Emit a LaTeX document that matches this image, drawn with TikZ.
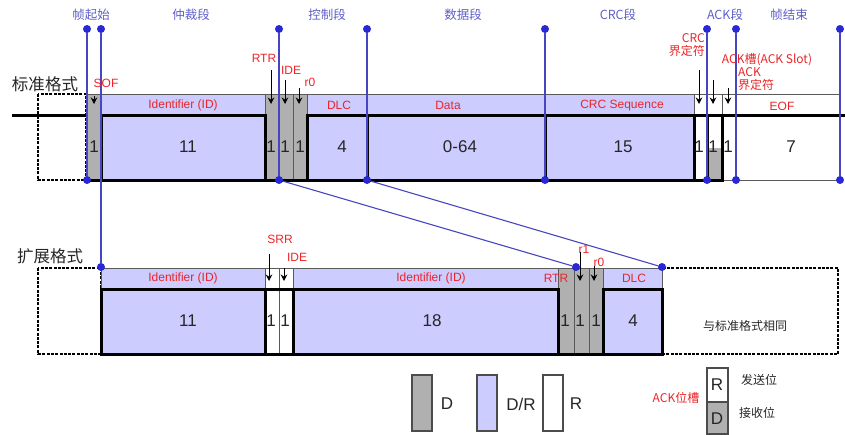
\documentclass[tikz,border=0pt]{standalone}
\usepackage{fontspec}
\setmainfont{Liberation Sans}
\newfontfamily\cjk{Noto Sans CJK SC}
\usetikzlibrary{arrows.meta}

\definecolor{lav}{RGB}{204,204,255}
\definecolor{bitgray}{RGB}{176,176,176}
\definecolor{segblue}{RGB}{70,70,195}
\definecolor{dotblue}{RGB}{40,40,215}
\definecolor{segtext}{RGB}{95,95,200}
\definecolor{lblred}{RGB}{236,36,40}

\begin{document}
\begin{tikzpicture}[x=1pt, y=-1pt, >={Stealth[length=6.5pt,width=6.5pt]},
  dbit/.style={fill=bitgray, draw=black!65, line width=0.8pt},
  drbit/.style={fill=lav, draw=black!65, line width=0.8pt},
  rbit/.style={fill=white, draw=black!65, line width=0.8pt},
  valbox/.style={draw=black, line width=3pt},
  bus/.style={draw=black, line width=3pt},
  idle/.style={draw=black, line width=2.6pt, dash pattern=on 3pt off 1.3pt},
  fname/.style={text=lblred, font=\fontsize{12}{13}\selectfont, inner sep=0pt},
  cname/.style={text=lblred, font=\cjk\fontsize{12}{13.5}\selectfont, inner sep=0pt},
  fval/.style={text=black!85, font=\fontsize{17}{18}\selectfont, inner sep=0pt},
  seg/.style={text=segtext, font=\cjk\fontsize{12.5}{13}\selectfont, inner sep=0pt},
  fmt/.style={text=black!85, font=\cjk\fontsize{16.5}{17}\selectfont, inner sep=0pt},
  note/.style={text=black!85, font=\cjk\fontsize{12}{13}\selectfont, inner sep=0pt},
  segdot/.style={circle, fill=dotblue, inner sep=0pt, minimum size=8pt},
  segline/.style={draw=segblue, line width=1.1pt},
  bitarrow/.style={->, line width=1pt, draw=black},
  legbox/.style={draw=black!70, line width=1.4pt}
]
\useasboundingbox (0,0) rectangle (845,434);

% standard frame
\draw[idle] (38,94) rectangle (86,180);
\draw[bus] (12,115) -- (86,115);
\foreach \a/\b/\st in {86/101/dbit, 101/265/drbit, 265/279/dbit, 279/293/dbit, 293/307/dbit,
  307/367/drbit, 367/545/drbit, 545/694/drbit, 694/707/rbit, 707/722/rbit, 722/736/rbit, 736/840/rbit}
  \filldraw[\st] (\a,94) rectangle (\b,180);
\fill[bitgray] (707,148) rectangle (722,180);
\foreach \a/\b in {101/265, 307/367, 367/545, 545/694}
  \draw[valbox] (\a,115) rectangle (\b,180);
\draw[bus] (694,115) -- (845,115);
\draw[bus] (86,180) -- (707,180);
\draw[bus] (707,115) -- (707,180) -- (722,180) -- (722,115);

% extended frame
\draw[idle] (38,268) rectangle (101,354);
\draw[idle] (662,268) rectangle (838,354);
\foreach \a/\b/\st in {101/265/drbit, 265/279/rbit, 279/293/rbit, 293/558/drbit,
  558/574/dbit, 574/589/dbit, 589/603/dbit, 603/662/drbit}
  \filldraw[\st] (\a,268) rectangle (\b,354);
\foreach \a/\b in {101/265, 293/558, 603/662}
  \draw[valbox] (\a,289) rectangle (\b,354);
\draw[bus] (265,289) -- (293,289);
\draw[bus] (101,354) -- (662,354);

% segment lines
\foreach \n/\x in {sof/87, arb/101, ctl/279, dat/367, crc/545, ack/707, eof/736, end/840}
  \node[segdot] (\n-t) at (\x,29) {};
\foreach \n/\x in {sof/87, ctl/279, dat/367, crc/545, ack/707, eof/736, end/840}
  \node[segdot] (\n-b) at (\x,180) {};
\node[segdot] (arb-x) at (101,267) {};
\node[segdot] (ctl-x) at (576,267) {};
\node[segdot] (dat-x) at (662,267) {};
\foreach \n in {sof, ctl, dat, crc, ack, eof, end}
  \draw[segline] (\n-t) -- (\n-b);
\draw[segline] (arb-t) -- (arb-x);
\draw[segline] (ctl-b) -- (ctl-x);
\draw[segline] (dat-b) -- (dat-x);

\node[seg] at (91,15) {帧起始};
\node[seg] at (191,15) {仲裁段};
\node[seg] at (327,15) {控制段};
\node[seg] at (463,15) {数据段};
\node[seg] at (618,15) {CRC段};
\node[seg] at (725,15) {ACK段};
\node[seg] at (789,15) {帧结束};

\node[fmt] (std) at (45,84) {标准格式};
\node[fmt] (ext) at (50,256) {扩展格式};

% standard frame labels
\node[fname] (sof) at (106,83) {SOF};
\node[fname] (rtr) at (264,58) {RTR};
\node[fname] (ide) at (291,70) {IDE};
\node[fname] (rz) at (310,82) {r0};
\node[cname, align=right, anchor=east] (crcd) at (705,45) {CRC\\界定符};
\node[cname] (acks) at (767,60) {ACK槽(ACK Slot)};
\node[cname, align=left, anchor=west] (ackd) at (738,79) {ACK\\界定符};
\foreach \n/\x/\ya in {sof/94/96, rtr/271/70, ide/285/80, rz/299/88, crcd/699/70, acks/713/80, ackd/728/88} {
  \coordinate (\n-a) at (\x,\ya);
  \coordinate (\n-h) at (\x,104);
  \draw[bitarrow] (\n-a) -- (\n-h);
}
\node[fname] at (183,105) {Identifier (ID)};
\node[fname] at (339,105) {DLC};
\node[fname] at (448,105) {Data};
\node[fname] at (622,106) {CRC Sequence};
\node[fname] at (782,106) {EOF};
\foreach \x/\t in {94/1, 188/11, 271/1, 285/1, 300/1, 342/4, 460/0-64, 623/15, 699/1, 713/1, 728/1, 791/7}
  \node[fval] at (\x,147) {\t};

% extended frame labels
\node[fname] (srr) at (280,239) {SRR};
\node[fname] (eide) at (297,257) {IDE};
\node[fname] (rone) at (584,249) {r1};
\node[fname] (ezero) at (599,262) {r0};
\foreach \n/\x/\ya in {srr/269/254, eide/284/268, rone/580/252, ezero/594/266} {
  \coordinate (\n-a) at (\x,\ya);
  \coordinate (\n-h) at (\x,281);
  \draw[bitarrow] (\n-a) -- (\n-h);
}
\node[fname] at (183,278) {Identifier (ID)};
\node[fname] at (431,278) {Identifier (ID)};
\node[fname] at (556,278) {RTR};
\node[fname] at (634,278) {DLC};
\foreach \x/\t in {188/11, 271/1, 285/1, 432/18, 565/1, 580/1, 596/1, 633/4}
  \node[fval] at (\x,321) {\t};
\node[note] (same) at (745,326) {与标准格式相同};

% legend
\filldraw[legbox, fill=bitgray] (412,375) rectangle (432,431);
\filldraw[legbox, fill=lav] (477,375) rectangle (497,431);
\filldraw[legbox, fill=white] (543,375) rectangle (563,431);
\node[fval] (dleg) at (447,404) {D};
\node[fval] (drleg) at (521,404) {D/R};
\node[fval] (rleg) at (576,404) {R};
\filldraw[legbox, fill=white] (707,368) rectangle (728,402);
\filldraw[legbox, fill=bitgray] (707,402) rectangle (728,434);
\node[fval] (rslot) at (717,385) {R};
\node[fval] (dslot) at (717,419) {D};
\node[cname] (slot) at (676,398) {ACK位槽};
\node[note] (tx) at (759,380) {发送位};
\node[note] (rx) at (757,413) {接收位};
\end{tikzpicture}
\end{document}
